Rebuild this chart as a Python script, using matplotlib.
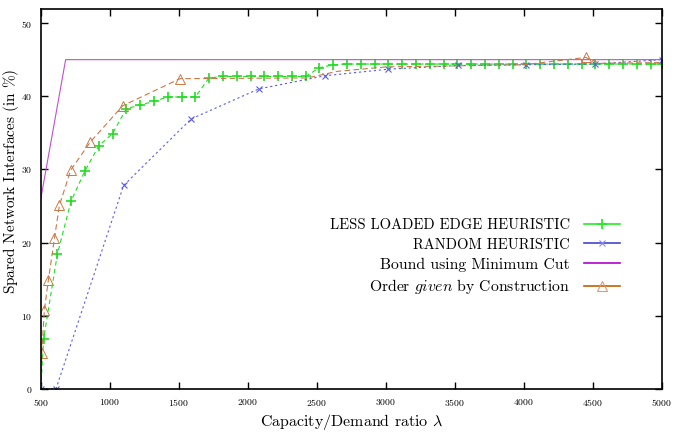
import matplotlib
matplotlib.use("Agg")
import matplotlib.pyplot as plt
from matplotlib.lines import Line2D

plt.rcParams['font.family'] = ['cmr10', 'DejaVu Serif']
plt.rcParams['mathtext.fontset'] = 'cm'
plt.rcParams['axes.formatter.use_mathtext'] = True

# Less Loaded Edge Heuristic
lle_x = [500, 520, 620, 720, 820, 920, 1020, 1120, 1220, 1320, 1420, 1520, 1620, 1720,
         1820, 1920, 2020, 2120, 2220, 2320, 2420, 2520, 2620, 2720, 2820, 2920, 3020,
         3120, 3220, 3320, 3420, 3520, 3620, 3720, 3820, 3920, 4020, 4120, 4220, 4320,
         4420, 4520, 4620, 4720, 4820, 4920, 5000]
lle_y = [0, 6.8, 18.4, 25.7, 29.8, 33.2, 34.9, 38.3, 38.8, 39.3, 39.9, 39.9, 39.9, 42.5,
         42.7, 42.7, 42.7, 42.7, 42.7, 42.7, 42.7, 43.9, 44.3, 44.4, 44.4, 44.4, 44.4,
         44.4, 44.4, 44.4, 44.4, 44.4, 44.4, 44.4, 44.4, 44.4, 44.4, 44.4, 44.4, 44.4,
         44.4, 44.4, 44.4, 44.4, 44.4, 44.4, 44.4]

# Random Heuristic
rnd_x = [500, 610, 1100, 1590, 2080, 2560, 3020, 3525, 4020, 4517, 5000]
rnd_y = [0, 0, 27.8, 36.9, 41.0, 42.8, 43.7, 44.2, 44.3, 44.4, 45.0]

# Bound using Minimum Cut
bnd_x = [500, 680, 5000]
bnd_y = [26, 45, 45]

# Order given by Construction
ord_x = [500, 507, 526, 555, 599, 635, 717, 857, 1094, 1509, 2430, 2650, 3000, 4000, 4449, 4550, 5000]
ord_y = [0, 4.9, 10.8, 14.9, 20.6, 25.1, 29.9, 33.7, 38.7, 42.4, 42.5, 43.4, 44.0, 44.3, 45.3, 44.5, 44.6]
ord_marks = [1, 2, 3, 4, 5, 6, 7, 8, 9, 14]

c_lle = '#22dd22'
c_rnd = '#5a5aee'
c_bnd = '#c050d0'
c_ord = '#cc7744'

fig = plt.figure(figsize=(6.8, 4.36), dpi=100)
ax = fig.add_axes([0.06, 0.108, 0.913, 0.871])

ax.plot(lle_x, lle_y, color=c_lle, lw=0.8, ls=(0, (4, 3)), marker='+', ms=6.5, mew=1.2)
ax.plot(rnd_x, rnd_y, color=c_rnd, lw=0.8, ls=(0, (2, 2.5)), marker='x', ms=5, mew=0.8)
ax.plot(bnd_x, bnd_y, color=c_bnd, lw=0.8)
ax.plot(ord_x, ord_y, color=c_ord, lw=0.8, ls=(0, (5, 3)), marker='^', ms=6.5, mew=0.7,
        mfc='none', markevery=ord_marks)

ax.set_xlim(500, 5000)
ax.set_ylim(0, 51.9)
ax.set_xticks([500, 1000, 1500, 2000, 2500, 3000, 3500, 4000, 4500, 5000])
ax.set_yticks([0, 10, 20, 30, 40, 50])
ax.tick_params(direction='in', length=5, width=1, top=True, right=True, labelsize=7, pad=6)
for s in ax.spines.values():
    s.set_linewidth(1.2)

ax.set_xlabel(r'Capacity/Demand ratio $\lambda$', fontsize=11.5, labelpad=3)
ax.set_ylabel(r'Spared Network Interfaces (in $\%$)', fontsize=11)
ax.yaxis.set_label_coords(-0.032, 0.547)

handles = [
    Line2D([], [], color='#22ee22', lw=1.2, marker='+', ms=7, mew=1.3),
    Line2D([], [], color='#4444cc', lw=1.2, marker='x', ms=5, mew=0.8, mec='#8888ff'),
    Line2D([], [], color='#b000d0', lw=1.2),
    Line2D([], [], color='#c06000', lw=1.2, marker='^', ms=7, mfc='none', mew=0.8, mec='#dd9977'),
]
labels = ['LESS LOADED EDGE HEURISTIC', 'RANDOM HEURISTIC', 'Bound using Minimum Cut',
          r'Order $given$ by Construction']
leg = ax.legend(handles, labels, loc='upper right', bbox_to_anchor=(0.946, 0.47),
                markerfirst=False, frameon=False, fontsize=11.3, handlelength=2.3,
                labelspacing=0.36, borderpad=0, handletextpad=0.9)
for t in leg.get_texts()[:2]:
    t.set_fontsize(10.5)
for t in leg.get_texts():
    t.set_ha('right')
leg._legend_box.align = 'right'

fig.savefig('out.png', dpi=100)
